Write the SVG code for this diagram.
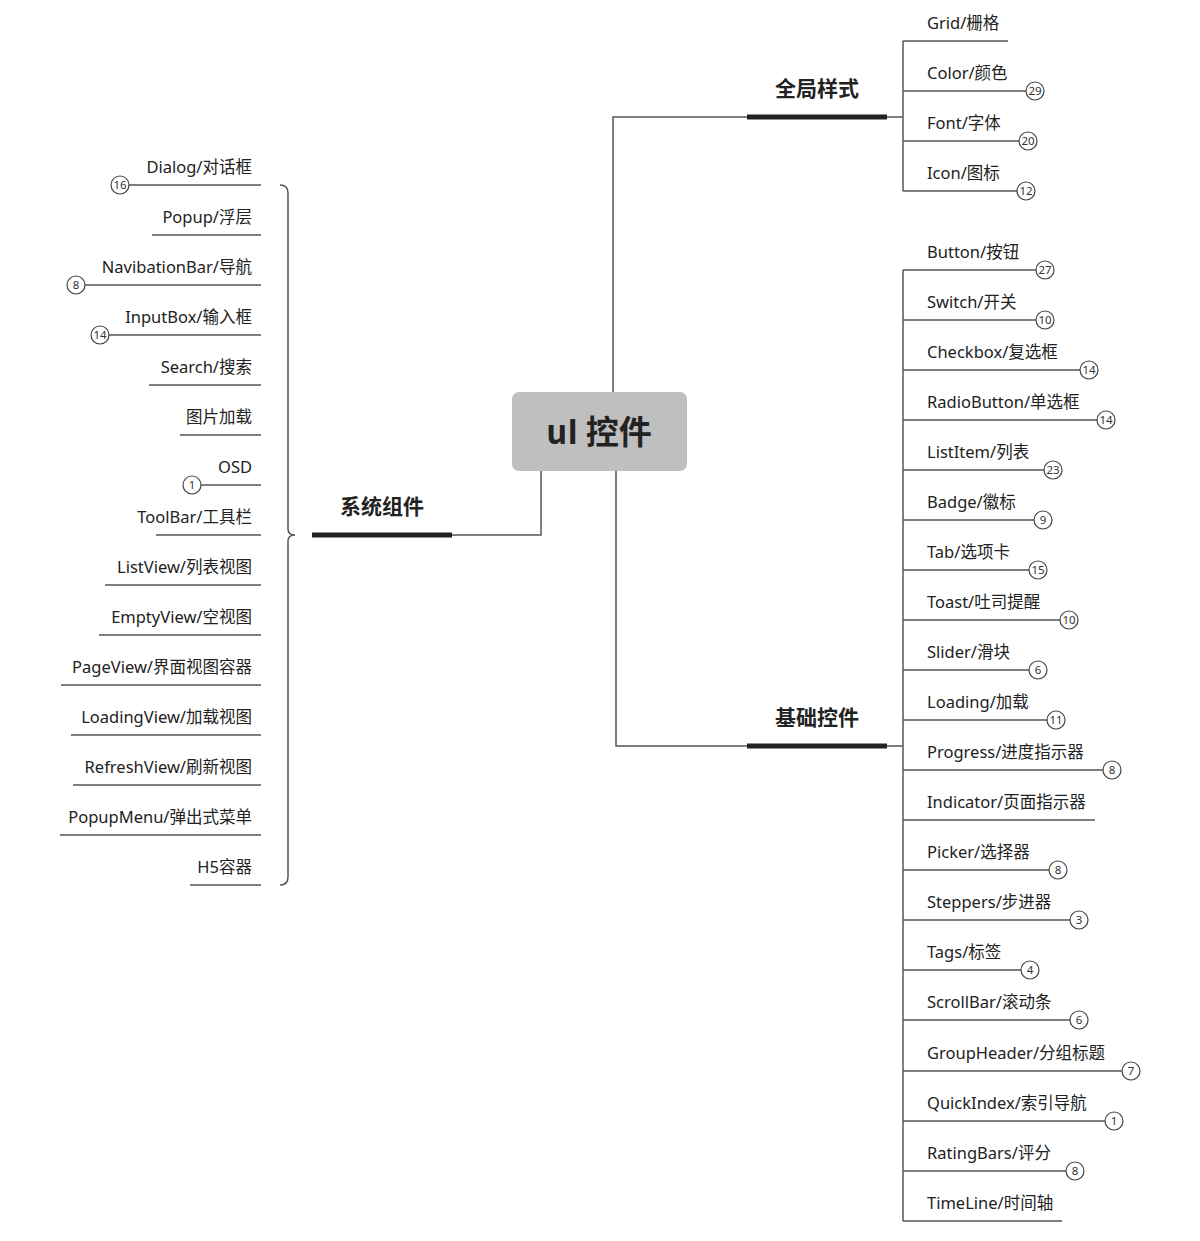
<svg xmlns="http://www.w3.org/2000/svg" width="1200" height="1241" viewBox="0 0 1200 1241">
<style>
text{font-family:"Noto Sans","Noto Sans CJK SC",sans-serif;fill:#222}
.t{font-size:16.5px}
.l{text-anchor:end}
.br{font-size:21px;font-weight:bold;text-anchor:middle}
.c{stroke:#555;stroke-width:1.5;fill:none}
.bar{stroke:#222;stroke-width:5}
.b circle{fill:#fff;stroke:#444;stroke-width:1.2}
.b text{font-size:11.5px;text-anchor:middle;fill:#333}
</style>
<rect width="1200" height="1241" fill="#fff"/>
<g id="connectors">
<path class="c" d="M613 392V117H747M887 117H903M903 41V191"/>
<path class="c" d="M616 471V746H747M887 746H903M903 270V1221"/>
<path class="c" d="M541 471V535H452"/>
<line class="bar" x1="747" y1="117" x2="887" y2="117"/>
<line class="bar" x1="747" y1="746" x2="887" y2="746"/>
<line class="bar" x1="312" y1="535" x2="452" y2="535"/>
<path class="c" d="M280 185Q288 185 288 193V529Q288 535 295 535Q288 535 288 541V877Q288 885 280 885"/>
</g>
<g id="center"><rect x="512" y="392" width="175" height="79" rx="7" fill="#bfbfbf"/><text x="599" y="444" style="font-family:'Noto Sans CJK SC',sans-serif;font-size:33px;font-weight:bold;text-anchor:middle">uI 控件</text></g>
<g id="b-global"><text class="br" x="817" y="96">全局样式</text></g>
<g id="b-basic"><text class="br" x="817" y="725">基础控件</text></g>
<g id="b-system"><text class="br" x="382" y="514">系统组件</text></g>

<g id="grid"><path class="c" d="M903 41H1008"/><text class="t" x="927" y="29">Grid/栅格</text></g>
<g id="color"><path class="c" d="M903 91H1026"/><text class="t" x="927" y="79">Color/颜色</text><g class="b"><circle cx="1035" cy="91" r="9"/><text x="1035" y="95">29</text></g></g>
<g id="font"><path class="c" d="M903 141H1019"/><text class="t" x="927" y="129">Font/字体</text><g class="b"><circle cx="1028" cy="141" r="9"/><text x="1028" y="145">20</text></g></g>
<g id="icon"><path class="c" d="M903 191H1017"/><text class="t" x="927" y="179">Icon/图标</text><g class="b"><circle cx="1026" cy="191" r="9"/><text x="1026" y="195">12</text></g></g>

<g id="button"><path class="c" d="M903 270H1036"/><text class="t" x="927" y="258">Button/按钮</text><g class="b"><circle cx="1045" cy="270" r="9"/><text x="1045" y="274">27</text></g></g>
<g id="switch"><path class="c" d="M903 320H1036"/><text class="t" x="927" y="308">Switch/开关</text><g class="b"><circle cx="1045" cy="320" r="9"/><text x="1045" y="324">10</text></g></g>
<g id="checkbox"><path class="c" d="M903 370H1080"/><text class="t" x="927" y="358">Checkbox/复选框</text><g class="b"><circle cx="1089" cy="370" r="9"/><text x="1089" y="374">14</text></g></g>
<g id="radiobutton"><path class="c" d="M903 420H1097"/><text class="t" x="927" y="408">RadioButton/单选框</text><g class="b"><circle cx="1106" cy="420" r="9"/><text x="1106" y="424">14</text></g></g>
<g id="listitem"><path class="c" d="M903 470H1044"/><text class="t" x="927" y="458">ListItem/列表</text><g class="b"><circle cx="1053" cy="470" r="9"/><text x="1053" y="474">23</text></g></g>
<g id="badge"><path class="c" d="M903 520H1034"/><text class="t" x="927" y="508">Badge/徽标</text><g class="b"><circle cx="1043" cy="520" r="9"/><text x="1043" y="524">9</text></g></g>
<g id="tab"><path class="c" d="M903 570H1029"/><text class="t" x="927" y="558">Tab/选项卡</text><g class="b"><circle cx="1038" cy="570" r="9"/><text x="1038" y="574">15</text></g></g>
<g id="toast"><path class="c" d="M903 620H1060"/><text class="t" x="927" y="608">Toast/吐司提醒</text><g class="b"><circle cx="1069" cy="620" r="9"/><text x="1069" y="624">10</text></g></g>
<g id="slider"><path class="c" d="M903 670H1029"/><text class="t" x="927" y="658">Slider/滑块</text><g class="b"><circle cx="1038" cy="670" r="9"/><text x="1038" y="674">6</text></g></g>
<g id="loading"><path class="c" d="M903 720H1047"/><text class="t" x="927" y="708">Loading/加载</text><g class="b"><circle cx="1056" cy="720" r="9"/><text x="1056" y="724">11</text></g></g>
<g id="progress"><path class="c" d="M903 770H1103"/><text class="t" x="927" y="758">Progress/进度指示器</text><g class="b"><circle cx="1112" cy="770" r="9"/><text x="1112" y="774">8</text></g></g>
<g id="indicator"><path class="c" d="M903 820H1095"/><text class="t" x="927" y="808">Indicator/页面指示器</text></g>
<g id="picker"><path class="c" d="M903 870H1049"/><text class="t" x="927" y="858">Picker/选择器</text><g class="b"><circle cx="1058" cy="870" r="9"/><text x="1058" y="874">8</text></g></g>
<g id="steppers"><path class="c" d="M903 920H1070"/><text class="t" x="927" y="908">Steppers/步进器</text><g class="b"><circle cx="1079" cy="920" r="9"/><text x="1079" y="924">3</text></g></g>
<g id="tags"><path class="c" d="M903 970H1021"/><text class="t" x="927" y="958">Tags/标签</text><g class="b"><circle cx="1030" cy="970" r="9"/><text x="1030" y="974">4</text></g></g>
<g id="scrollbar"><path class="c" d="M903 1020H1070"/><text class="t" x="927" y="1008">ScrollBar/滚动条</text><g class="b"><circle cx="1079" cy="1020" r="9"/><text x="1079" y="1024">6</text></g></g>
<g id="groupheader"><path class="c" d="M903 1071H1122"/><text class="t" x="927" y="1059">GroupHeader/分组标题</text><g class="b"><circle cx="1131" cy="1071" r="9"/><text x="1131" y="1075">7</text></g></g>
<g id="quickindex"><path class="c" d="M903 1121H1105"/><text class="t" x="927" y="1109">QuickIndex/索引导航</text><g class="b"><circle cx="1114" cy="1121" r="9"/><text x="1114" y="1125">1</text></g></g>
<g id="ratingbars"><path class="c" d="M903 1171H1066"/><text class="t" x="927" y="1159">RatingBars/评分</text><g class="b"><circle cx="1075" cy="1171" r="9"/><text x="1075" y="1175">8</text></g></g>
<g id="timeline"><path class="c" d="M903 1221H1062"/><text class="t" x="927" y="1209">TimeLine/时间轴</text></g>

<g id="dialog"><path class="c" d="M129 185H261"/><text class="t l" x="252" y="173">Dialog/对话框</text><g class="b"><circle cx="120" cy="185" r="9"/><text x="120" y="189">16</text></g></g>
<g id="popup"><path class="c" d="M152 235H261"/><text class="t l" x="252" y="223">Popup/浮层</text></g>
<g id="navbar"><path class="c" d="M85 285H261"/><text class="t l" x="252" y="273">NavibationBar/导航</text><g class="b"><circle cx="76" cy="285" r="9"/><text x="76" y="289">8</text></g></g>
<g id="inputbox"><path class="c" d="M109 335H261"/><text class="t l" x="252" y="323">InputBox/输入框</text><g class="b"><circle cx="100" cy="335" r="9"/><text x="100" y="339">14</text></g></g>
<g id="search"><path class="c" d="M149 385H261"/><text class="t l" x="252" y="373">Search/搜索</text></g>
<g id="image"><path class="c" d="M180 435H261"/><text class="t l" x="252" y="423">图片加载</text></g>
<g id="osd"><path class="c" d="M201 485H261"/><text class="t l" x="252" y="473">OSD</text><g class="b"><circle cx="192" cy="485" r="9"/><text x="192" y="489">1</text></g></g>
<g id="toolbar"><path class="c" d="M156 535H261"/><text class="t l" x="252" y="523">ToolBar/工具栏</text></g>
<g id="listview"><path class="c" d="M105 585H261"/><text class="t l" x="252" y="573">ListView/列表视图</text></g>
<g id="emptyview"><path class="c" d="M99 635H261"/><text class="t l" x="252" y="623">EmptyView/空视图</text></g>
<g id="pageview"><path class="c" d="M61 685H261"/><text class="t l" x="252" y="673">PageView/界面视图容器</text></g>
<g id="loadingview"><path class="c" d="M71 735H261"/><text class="t l" x="252" y="723">LoadingView/加载视图</text></g>
<g id="refreshview"><path class="c" d="M73 785H261"/><text class="t l" x="252" y="773">RefreshView/刷新视图</text></g>
<g id="popupmenu"><path class="c" d="M60 835H261"/><text class="t l" x="252" y="823">PopupMenu/弹出式菜单</text></g>
<g id="h5"><path class="c" d="M190 885H261"/><text class="t l" x="252" y="873">H5容器</text></g>
</svg>
